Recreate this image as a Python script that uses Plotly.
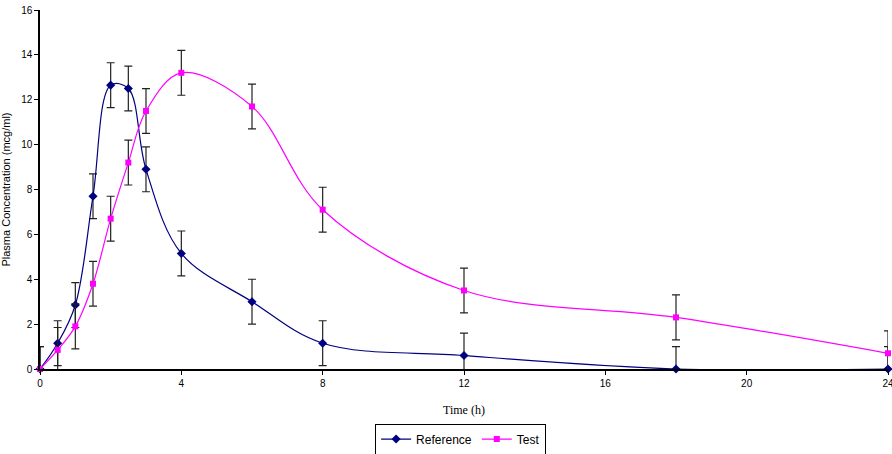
import plotly.graph_objects as go

time_h = [0, 0.5, 1, 1.5, 2, 2.5, 3, 4, 6, 8, 12, 18, 24]
reference = [0, 1.15, 2.85, 7.7, 12.65, 12.5, 8.9, 5.15, 3.0, 1.15, 0.6, 0, 0]
test = [0, 0.85, 1.9, 3.8, 6.7, 9.2, 11.5, 13.2, 11.7, 7.1, 3.5, 2.3, 0.7]
ref_err_up = [1] * len(time_h)
ref_err_down = [0, 1, 1, 1, 1, 1, 1, 1, 1, 1, 1, 0, 0]
test_err_up = [1] * len(time_h)
test_err_down = [0, 1, 1, 1, 1, 1, 1, 1, 1, 1, 1, 1, 1]

x_ticks = [0, 4, 8, 12, 16, 20, 24]
y_ticks = [0, 2, 4, 6, 8, 10, 12, 14, 16]

fig = go.Figure()
fig.add_trace(go.Scatter(
    x=time_h, y=reference, name="Reference", mode="lines+markers",
    line=dict(color="#000080", width=1.2, shape="spline", smoothing=1.0),
    marker=dict(symbol="diamond", size=7, color="#000080"),
    error_y=dict(type="data", array=ref_err_up, arrayminus=ref_err_down,
                 color="#222222", thickness=1.2, width=4),
    cliponaxis=False,
))
fig.add_trace(go.Scatter(
    x=time_h, y=test, name="Test", mode="lines+markers",
    line=dict(color="#FF00FF", width=1.2, shape="spline", smoothing=1.0),
    marker=dict(symbol="square", size=6, color="#FF00FF"),
    error_y=dict(type="data", array=test_err_up, arrayminus=test_err_down,
                 color="#222222", thickness=1.2, width=4),
    cliponaxis=False,
))

fig.update_layout(
    width=892, height=454,
    margin=dict(l=40, r=4, t=10, b=85, autoexpand=False),
    paper_bgcolor="white", plot_bgcolor="white",
    font=dict(family="Arial, Liberation Sans", size=10, color="black"),
    showlegend=True,
    legend=dict(orientation="h", x=0.496, xanchor="center", y=-0.152, yanchor="top",
                bordercolor="black", borderwidth=1, font=dict(size=12, family="Arial, Liberation Sans"),
                itemwidth=30, tracegroupgap=0),
    xaxis=dict(range=[0, 24], tickvals=x_ticks, ticks="outside", ticklen=4, tickcolor="black",
               showline=True, linecolor="black", linewidth=1.5, showgrid=False, zeroline=False,
               tickfont=dict(size=10), ticklabeloverflow="allow", automargin=False,
               title=dict(text="Time (h)", font=dict(family="Times New Roman, Liberation Serif", size=12), standoff=18)),
    yaxis=dict(range=[0, 16], tickvals=y_ticks, ticks="outside", ticklen=4, tickcolor="black",
               showline=True, linecolor="black", linewidth=1.5, showgrid=False, zeroline=False,
               tickfont=dict(size=10), automargin=False,
               title=dict(text="Plasma Concentration (mcg/ml)", font=dict(size=11), standoff=8)),
)

fig.write_html("out.html")
